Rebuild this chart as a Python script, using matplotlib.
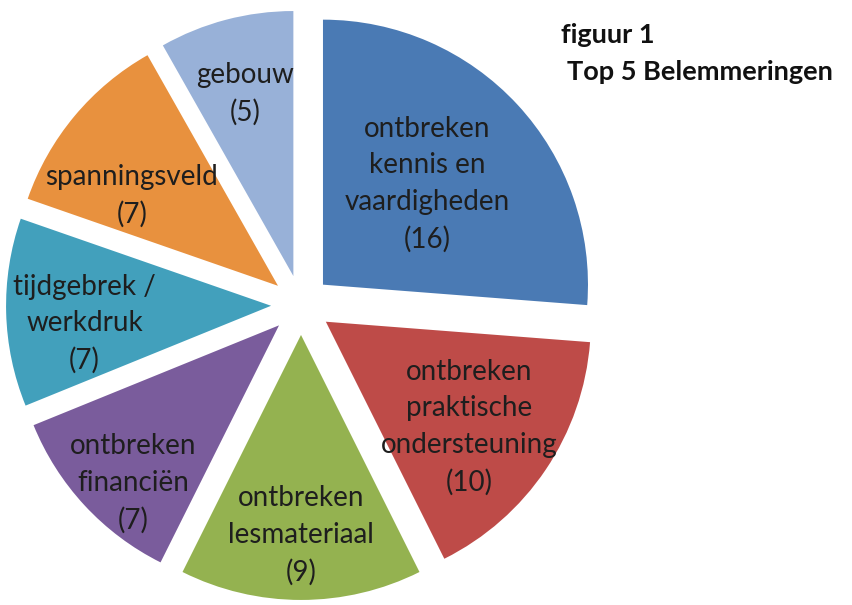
import numpy as np
import matplotlib.pyplot as plt

# data
labels = ["ontbreken\nkennis en\nvaardigheden", "ontbreken\npraktische\nondersteuning",
          "ontbreken\nlesmateriaal", "ontbreken\nfinanciën", "tijdgebrek /\nwerkdruk",
          "spanningsveld", "gebouw"]
counts = [16, 10, 9, 7, 7, 7, 5]
colors = ["#4A7AB4", "#BE4B48", "#94B250", "#7A5C9C", "#42A0BC", "#E8913E", "#98B1D8"]

# label placement: fraction of radius from pie centre, and a small turn (deg)
label_dist = [0.66, 0.785, 0.87, 0.925, 0.82, 0.76, 0.825]
label_turn = [1, -2, 0, 4, 3.5, 7, 0]

W, H = 853, 605
cx, cy, R = 301, 300, 265   # pie centre (px from left / bottom) and radius

fig = plt.figure(figsize=(W / 100, H / 100), dpi=100)
ax = fig.add_axes([0, 0, 1, 1])

wedges, _ = ax.pie(counts, colors=colors, startangle=90, counterclock=False,
                   explode=[0.113] * len(counts), radius=1.0)

ax.set_xlim(-cx / R, (W - cx) / R)
ax.set_ylim(-cy / R, (H - cy) / R)
ax.set_aspect("auto")
ax.axis("off")

for w, lab, n, d, t in zip(wedges, labels, counts, label_dist, label_turn):
    ang = np.deg2rad((w.theta1 + w.theta2) / 2 + t)
    ax.text(d * np.cos(ang), d * np.sin(ang), f"{lab}\n({n})",
            ha="center", va="center", fontsize=20, family="Lato",
            color="#1e1e1e", linespacing=1.5)

fig.text(561 / W, 1 - 35 / H, "figuur 1", fontsize=19.5, family="Lato",
         fontweight="bold", va="center", ha="left", color="#111111")
fig.text(567 / W, 1 - 72 / H, "Top 5 Belemmeringen", fontsize=19.5, family="Lato",
         fontweight="bold", va="center", ha="left", color="#111111")

fig.savefig("out.png", dpi=100)
